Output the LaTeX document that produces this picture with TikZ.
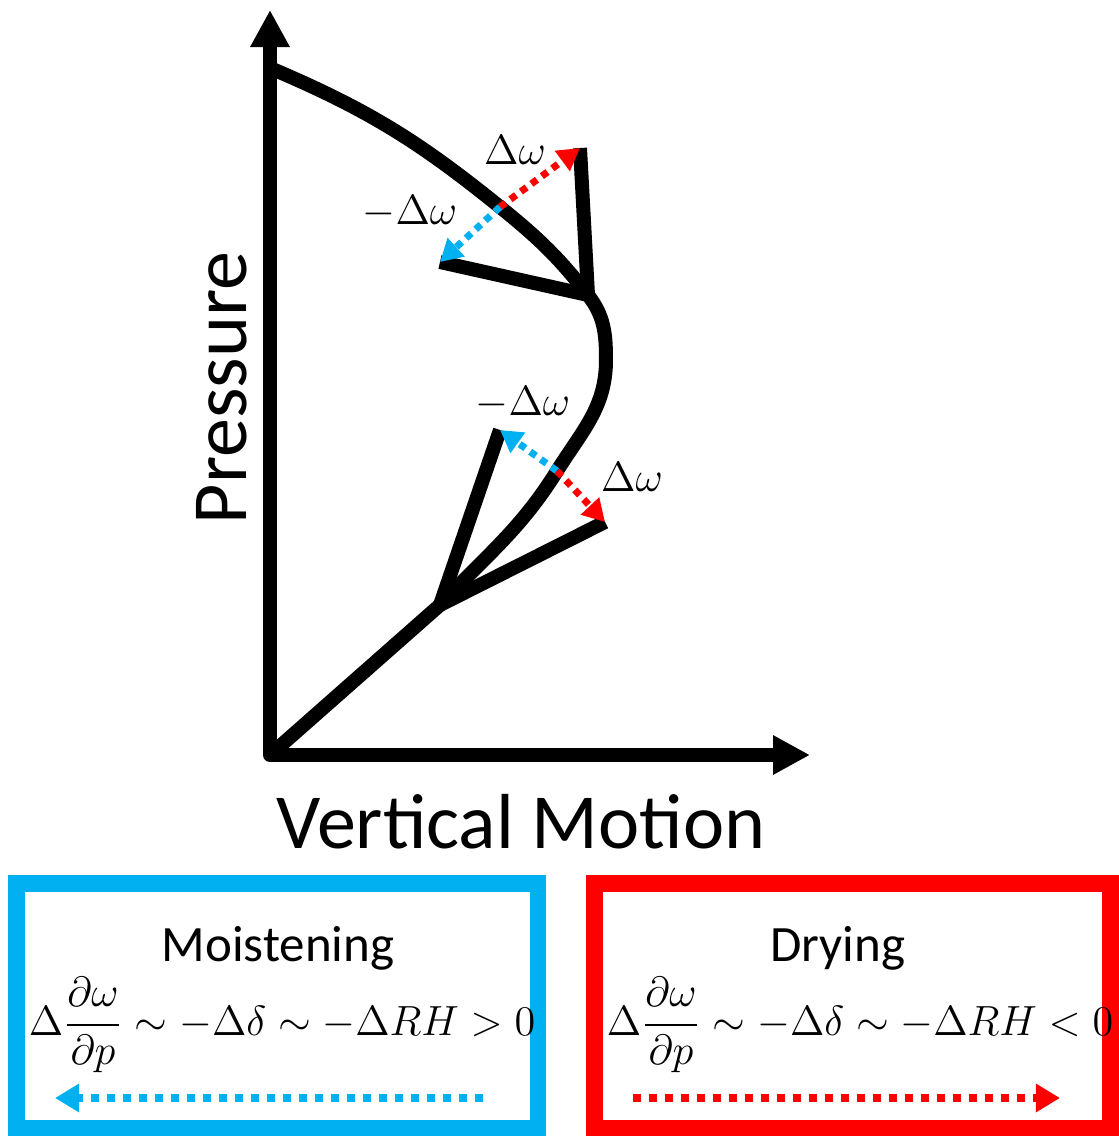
\documentclass[tikz,border=0pt]{standalone}
\usepackage{amsmath}
\usepackage{fontspec}
\setmainfont{Carlito}
\usetikzlibrary{arrows.meta,positioning}
\definecolor{MoistBlue}{RGB}{0,176,240}
\definecolor{DryRed}{RGB}{255,0,0}
\tikzset{
  axis/.style={line width=0.14cm, line join=round,
    {Triangle[length=3.7mm,width=3.7mm]}-{Triangle[length=3.7mm,width=3.7mm]}},
  profile/.style={line width=0.14cm, line join=round},
  moistarrow/.style={draw=MoistBlue, line width=0.07cm, dash pattern=on 0.07cm off 0.06cm,
    -{Triangle[length=2.2mm,width=2.4mm]}},
  dryarrow/.style={draw=DryRed, line width=0.07cm, dash pattern=on 0.07cm off 0.06cm,
    -{Triangle[length=2.2mm,width=2.4mm]}},
  boxarrow/.style={line width=0.08cm, dash pattern=on 0.08cm off 0.08cm,
    -{Triangle[length=2.4mm,width=2.7mm]}},
  bluebox/.style={rectangle, draw=MoistBlue, line width=0.17cm, minimum width=5.22cm, minimum height=2.45cm},
  redbox/.style={rectangle, draw=DryRed, line width=0.17cm, minimum width=5.16cm, minimum height=2.45cm},
  axislab/.style={font=\fontsize{22.2}{26}\selectfont},
  lab/.style={font=\fontsize{12}{14}\selectfont},
  title/.style={font=\fontsize{14.5}{17}\selectfont, anchor=base},
  eqn/.style={font=\fontsize{12.5}{15}\selectfont}
}

\begin{document}
\begin{tikzpicture}[every node/.style={inner sep=0pt}]
  \useasboundingbox (0,0) rectangle (11.19,11.36);
  \coordinate (origin) at (2.70,3.81);
  \coordinate (ytop) at (2.70,11.26);
  \coordinate (xend) at (8.10,3.81);
  \coordinate (top) at (2.70,10.68);
  \coordinate (cross1) at (5.00,9.29);
  \coordinate (knee1) at (5.88,8.41);
  \coordinate (bulge) at (6.06,7.76);
  \coordinate (cross2) at (5.57,6.65);
  \coordinate (knee2) at (4.40,5.31);
  \coordinate (up1) at (5.80,9.88);
  \coordinate (lo1) at (4.40,8.74);
  \coordinate (up2) at (5.00,7.06);
  \coordinate (lo2) at (6.05,6.14);
  \draw[axis] (ytop) -- (origin) -- (xend);
  \draw[profile] (top) to[out=-23,in=141] (cross1) to[out=-39,in=128] (knee1)
    to[out=-52,in=90] (bulge) to[out=-90,in=58] (cross2) to[out=-122,in=47] (knee2) -- (origin);
  \draw[profile] (knee1) -- (up1);
  \draw[profile] (knee1) -- (lo1);
  \draw[profile] (knee2) -- (up2);
  \draw[profile] (knee2) -- (lo2);
  \draw[dryarrow] (cross1) -- (up1);
  \draw[moistarrow] (cross1) -- (lo1);
  \draw[moistarrow] (cross2) -- (up2);
  \draw[dryarrow] (cross2) -- (lo2);
  \node[lab] (dw1) at (5.15,9.86) {$\Delta\omega$};
  \node[lab] (mdw1) at (4.10,9.24) {$-\Delta\omega$};
  \node[lab] (mdw2) at (5.23,7.33) {$-\Delta\omega$};
  \node[lab] (dw2) at (6.32,6.59) {$\Delta\omega$};
  \node[axislab, rotate=90] (pres) at (2.22,7.48) {Pressure};
  \node[axislab] (vmot) at (5.21,3.14) {Vertical Motion};
  \node[bluebox] (moist) at (2.77,1.305) {};
  \node[redbox] (dry) at (8.53,1.305) {};
  \node[title] (moisttitle) at (2.78,1.74) {Moistening};
  \node[title] (drytitle) at (8.38,1.74) {Drying};
  \node[eqn] (moisteq) at (2.82,1.11) {$\Delta\dfrac{\partial\omega}{\partial p}\sim-\Delta\delta\sim-\Delta RH>0$};
  \node[eqn] (dryeq) at (8.60,1.11) {$\Delta\dfrac{\partial\omega}{\partial p}\sim-\Delta\delta\sim-\Delta RH<0$};
  \coordinate (mstart) at (4.83,0.38);
  \coordinate (mend) at (0.55,0.38);
  \coordinate (dstart) at (6.33,0.38);
  \coordinate (dend) at (10.60,0.38);
  \draw[boxarrow, draw=MoistBlue] (mstart) -- (mend);
  \draw[boxarrow, draw=DryRed] (dstart) -- (dend);
\end{tikzpicture}
\end{document}
